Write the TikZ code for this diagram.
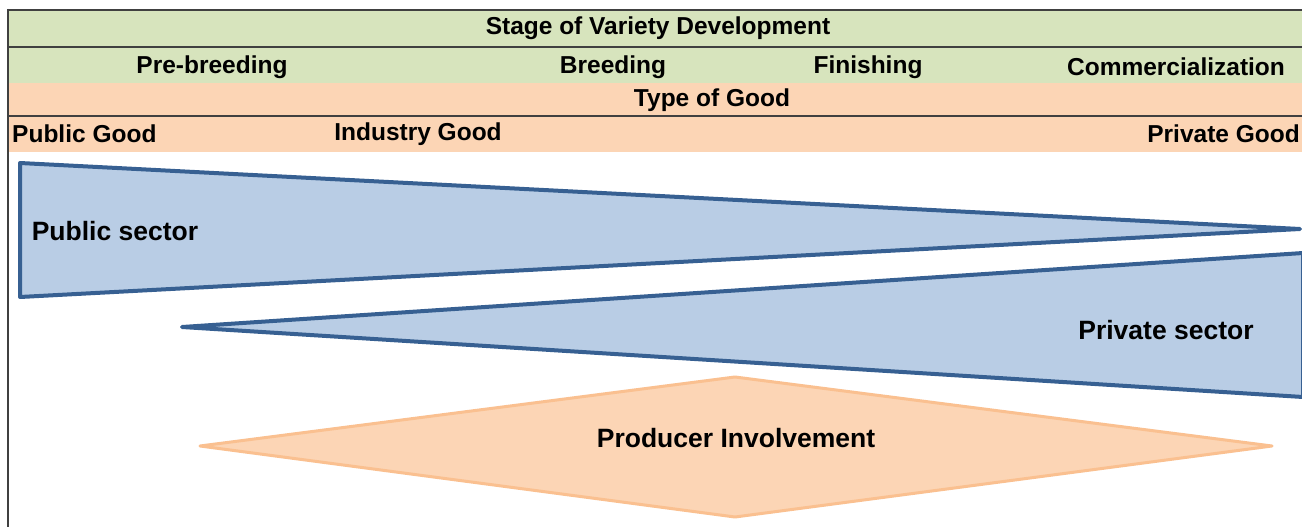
\documentclass[tikz,border=0pt]{standalone}
\usepackage{fontspec}
\setmainfont{Liberation Sans}
\definecolor{bandgreen}{RGB}{215,228,189}
\definecolor{bandorange}{RGB}{252,213,181}
\definecolor{blfill}{RGB}{185,205,229}
\definecolor{blline}{RGB}{55,96,146}
\definecolor{orline}{RGB}{250,192,144}
\definecolor{gridline}{RGB}{64,64,64}
\tikzset{
  hdr/.style={font=\fontsize{24.5}{28}\selectfont\bfseries, inner sep=0pt, text=black},
  seclabel/.style={font=\fontsize{26.5}{30}\selectfont\bfseries, inner sep=0pt, text=black},
  sector/.style={fill=blfill, draw=blline, line width=4pt, line join=round},
  involve/.style={fill=bandorange, draw=orline, line width=3pt, line join=round},
  rule/.style={draw=gridline, line width=2pt}
}
\begin{document}
\begin{tikzpicture}[x=1pt,y=-1pt]
\useasboundingbox (0,0) rectangle (1302,527);
\fill[white] (0,0) rectangle (1302,527);
% bands
\fill[bandgreen] (8,10) rectangle (1302,83);
\fill[bandorange] (8,83) rectangle (1302,152);
\draw[rule] (8,10) -- (1302,10);
\draw[rule] (8,47) -- (1302,47);
\draw[rule] (8,116) -- (1302,116);
\draw[rule] (8,9) -- (8,527);
% header texts
\node[hdr] (stage) at (658,28) {Stage of Variety Development};
\node[hdr] (pre) at (212,67) {Pre-breeding};
\node[hdr] (breed) at (613,67) {Breeding};
\node[hdr] (fin) at (868,67) {Finishing};
\node[hdr] (comm) at (1176,67) {Commercialization};
\node[hdr] (type) at (712,100) {Type of Good};
\node[hdr, anchor=west] (pubg) at (12,134) {Public Good};
\node[hdr] (indg) at (418,134) {Industry Good};
\node[hdr, anchor=east] (privg) at (1300,134) {Private Good};
% sectors
\draw[sector] (20,163) -- (1300,229) -- (20,297) -- cycle;
\draw[sector] (182,327) -- (1303,253) -- (1303,397) -- cycle;
\node[seclabel] (pubs) at (115,231) {Public sector};
\node[seclabel] (privs) at (1166,330) {Private sector};
% producer involvement
\draw[involve] (200,446) -- (735,377) -- (1272,446) -- (735,517) -- cycle;
\node[seclabel] (prod) at (736,438) {Producer Involvement};
\end{tikzpicture}
\end{document}
